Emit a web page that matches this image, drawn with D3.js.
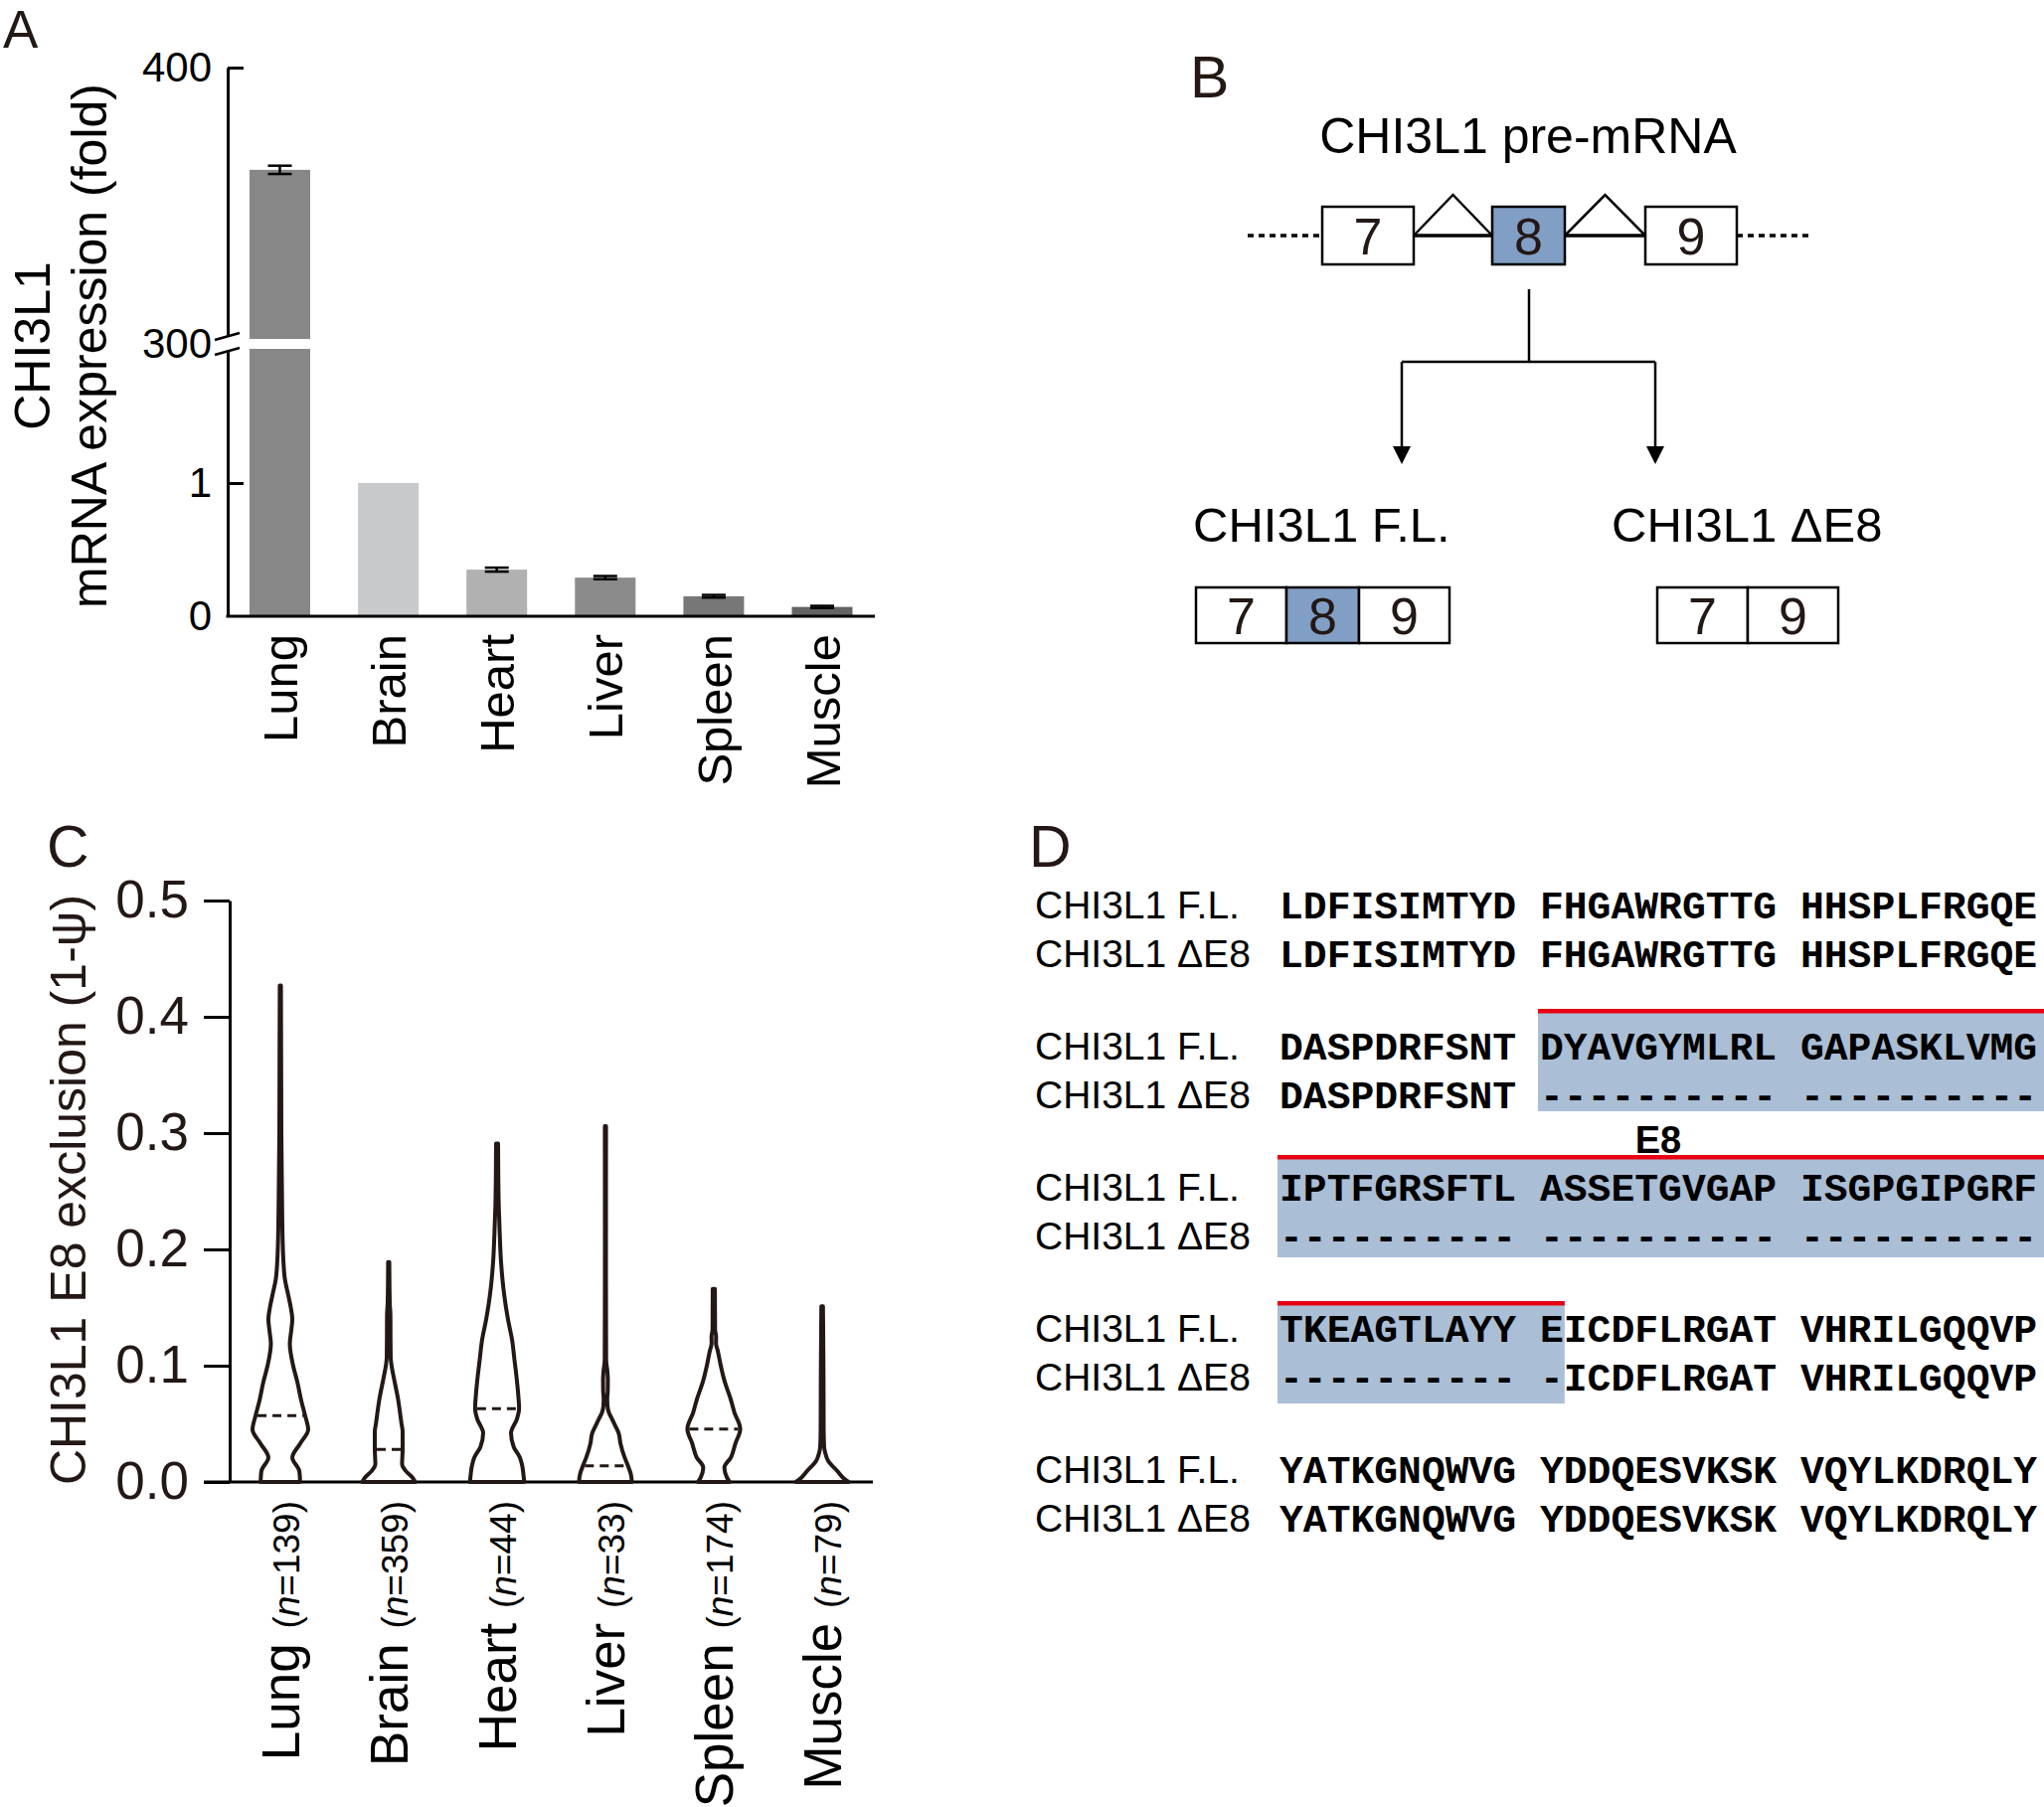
<!DOCTYPE html>
<html><head><meta charset="utf-8">
<script src="https://cdn.jsdelivr.net/npm/d3@7/dist/d3.min.js"></script>
<style>body{margin:0;background:#fff}svg{display:block}</style>
</head><body>
<svg id="fig" width="2056" height="1818"></svg>
<script>
// ================= DATA =================
const tissues = ["Lung", "Brain", "Heart", "Liver", "Spleen", "Muscle"];
// Panel A: relative mRNA expression (fold, Brain = 1)
const expression = [363, 1, 0.35, 0.29, 0.15, 0.07];
const expressionErr = [1.5, 0, 0.015, 0.012, 0.01, 0.008];
const barColors = ["#878787", "#c8c9cb", "#b1b1b1", "#8b8b8b", "#777777", "#636363"];
const yTicksA = [0, 1, 300, 400];

// Panel C: violin profiles [value (1-psi), relative density]
const sampleSizes = [139, 359, 44, 33, 174, 79];
const violinMedians = [0.057, 0.028, 0.063, 0.0139, 0.0456, null];
const lungDensity = [[0,.71],[0.0095,.68],[0.021,.43],[0.033,.71],[0.045,1],[0.057,.89],[0.07,.75],[0.086,.61],[0.1,.46],[0.119,.34],[0.13,.39],[0.14,.43],[0.15,.375],[0.16,.29],[0.175,.16],[0.19,.11],[0.21,.08],[0.243,.06],[0.3,.036],[0.36,.029],[0.427,.021]];
const brainDensity = [[0,.95],[0.0036,.86],[0.0095,.61],[0.0154,.48],[0.028,.5],[0.0435,.5],[0.05,.46],[0.072,.33],[0.09,.18],[0.101,.096],[0.107,.071],[0.125,.064],[0.143,.061],[0.155,.036],[0.189,.021]];
const heartDensity = [[0,.975],[0.0036,.96],[0.0154,.89],[0.021,.82],[0.03,.6],[0.042,.5],[0.054,.71],[0.063,.79],[0.075,.76],[0.092,.69],[0.105,.625],[0.122,.54],[0.14,.39],[0.16,.26],[0.19,.14],[0.215,.093],[0.237,.061],[0.265,.043],[0.291,.036]];
const liverDensity = [[0,.95],[0.007,.91],[0.0139,.81],[0.021,.69],[0.033,.54],[0.042,.475],[0.048,.36],[0.054,.24],[0.06,.12],[0.066,.071],[0.072,.064],[0.078,.082],[0.088,.086],[0.095,.071],[0.105,.025],[0.2,.018],[0.306,.021]];
const spleenDensity = [[0,.57],[0.0036,.475],[0.0124,.38],[0.0213,.62],[0.0331,.775],[0.0456,.95],[0.0598,.74],[0.0717,.6],[0.0864,.39],[0.1,.25],[0.113,.14],[0.119,.079],[0.125,.082],[0.131,.046],[0.145,.043],[0.166,.039]];
const muscleDensity = [[0,.95],[0.002,.83],[0.0095,.54],[0.0184,.21],[0.025,.11],[0.03,.071],[0.045,.054],[0.08,.05],[0.11,.043],[0.151,.029]];
const violinDensities = [lungDensity, brainDensity, heartDensity, liverDensity, spleenDensity, muscleDensity];
const yTicksC = [0, 0.1, 0.2, 0.3, 0.4, 0.5];

// Panel B: exon structures
const preExons = ["7", "8", "9"];
const flExons = ["7", "8", "9"];
const de8Exons = ["7", "9"];

// Panel D: alignment
const isoformLabels = ["CHI3L1 F.L.", "CHI3L1 \u0394E8"];
const seqFL = ["LDFISIMTYD FHGAWRGTTG HHSPLFRGQE", "DASPDRFSNT DYAVGYMLRL GAPASKLVMG", "IPTFGRSFTL ASSETGVGAP ISGPGIPGRF", "TKEAGTLAYY EICDFLRGAT VHRILGQQVP", "YATKGNQWVG YDDQESVKSK VQYLKDRQLY"];
const seqDE8 = ["LDFISIMTYD FHGAWRGTTG HHSPLFRGQE", "DASPDRFSNT ---------- ----------", "---------- ---------- ----------", "---------- -ICDFLRGAT VHRILGQQVP", "YATKGNQWVG YDDQESVKSK VQYLKDRQLY"];
const exon8Spans = [null, [11, 32], [0, 32], [0, 12], null]; // residue column ranges

// ================= DRAW =================
const svg = d3.select("#fig");
svg.append("rect").attr("width", 2056).attr("height", 1818).attr("fill", "#fff");
const FONT = "'Liberation Sans', Arial, Helvetica, sans-serif";
const INK = "#231815";

function panelLabel(t, x, y, fs) {
  svg.append("text").attr("x", x).attr("y", y).text(t)
    .attr("font-family", FONT).attr("font-size", fs).attr("fill", INK);
}
panelLabel("A", 3, 48, 53); panelLabel("B", 1197, 98, 59); panelLabel("C", 47, 872, 59); panelLabel("D", 1035, 872, 59);

// ---------- Panel A ----------
(function () {
  const gA = svg.append("g");
  const x = d3.scalePoint().domain(tissues).range([281.5, 827]);
  const y = d3.scaleLinear().domain([0, 2, 300, 400]).range([620, 352, 346, 68]);
  const bw = 61, axX = 229, base = y(0);
  const data = tissues.map((t, i) => ({ t, v: expression[i], e: expressionErr[i], c: barColors[i] }));
  gA.selectAll("rect.bar").data(data).join("rect").attr("class", "bar")
    .attr("x", d => x(d.t) - bw / 2).attr("width", bw)
    .attr("y", d => y(d.v)).attr("height", d => base - y(d.v)).attr("fill", d => d.c);
  gA.append("rect").attr("x", x("Lung") - bw / 2 - 1).attr("width", bw + 2)
    .attr("y", y(300) - 5).attr("height", 10).attr("fill", "#fff");
  const eb = gA.selectAll("g.err").data(data.filter(d => d.e > 0)).join("g").attr("class", "err")
    .attr("stroke", "#000").attr("stroke-width", 2.5);
  eb.append("line").attr("x1", d => x(d.t)).attr("x2", d => x(d.t)).attr("y1", d => y(d.v - d.e)).attr("y2", d => y(d.v + d.e));
  eb.append("line").attr("x1", d => x(d.t) - 12).attr("x2", d => x(d.t) + 12).attr("y1", d => y(d.v - d.e)).attr("y2", d => y(d.v - d.e));
  eb.append("line").attr("x1", d => x(d.t) - 12).attr("x2", d => x(d.t) + 12).attr("y1", d => y(d.v + d.e)).attr("y2", d => y(d.v + d.e));
  const ax = gA.append("g").attr("transform", `translate(${axX},0)`)
    .call(d3.axisLeft(y).tickValues(yTicksA).tickFormat(d3.format("d")).tickSize(-16).tickSizeOuter(0).tickPadding(16));
  ax.select(".domain").attr("stroke", "#000").attr("stroke-width", 3);
  ax.selectAll(".tick line").attr("stroke", "#000").attr("stroke-width", 3)
    .filter(d => d === 300 || d === 0).remove();
  ax.selectAll(".tick text").attr("font-family", FONT).attr("font-size", 42).attr("fill", "#000");
  const yb = y(300);
  gA.append("polygon").attr("points", `${axX - 13},${yb - 4} ${axX + 12},${yb - 11} ${axX + 12},${yb + 4} ${axX - 13},${yb + 11}`).attr("fill", "#fff");
  gA.append("line").attr("x1", axX - 13).attr("y1", yb - 4).attr("x2", axX + 12).attr("y2", yb - 11).attr("stroke", "#000").attr("stroke-width", 2.5);
  gA.append("line").attr("x1", axX - 13).attr("y1", yb + 11).attr("x2", axX + 12).attr("y2", yb + 4).attr("stroke", "#000").attr("stroke-width", 2.5);
  gA.append("line").attr("x1", axX - 1.5).attr("x2", 880).attr("y1", base).attr("y2", base).attr("stroke", "#000").attr("stroke-width", 3);
  const xa = gA.append("g").attr("transform", `translate(0,${base})`).call(d3.axisBottom(x).tickSize(0));
  xa.select(".domain").remove();
  xa.selectAll(".tick text").attr("transform", "rotate(-90)").attr("x", -18).attr("y", 0).attr("dy", "0.35em")
    .attr("text-anchor", "end").attr("font-family", FONT).attr("font-size", 49).attr("fill", "#000");
  const tA = gA.append("g").attr("font-family", FONT).attr("font-size", 50).attr("fill", "#000").attr("text-anchor", "middle");
  tA.append("text").attr("transform", "translate(50,348) rotate(-90)").text("CHI3L1");
  tA.append("text").attr("transform", "translate(107,348) rotate(-90)").text("mRNA expression (fold)");
})();

// ---------- Panel B ----------
(function () {
  const g = svg.append("g").attr("font-family", FONT).attr("fill", "#000");
  g.append("text").attr("x", 1537).attr("y", 154).attr("text-anchor", "middle").attr("font-size", 50).text("CHI3L1 pre-mRNA");
  const cy = 237, bh = 58;
  const boxes = [{ n: preExons[0], x0: 1330, x1: 1422 }, { n: preExons[1], x0: 1501, x1: 1574 }, { n: preExons[2], x0: 1655, x1: 1747 }];
  [[1255, 1330], [1747, 1822]].forEach(([a, b]) => g.append("line").attr("x1", a).attr("x2", b).attr("y1", cy).attr("y2", cy)
    .attr("stroke", "#000").attr("stroke-width", 3.5).attr("stroke-dasharray", "6,5"));
  for (let i = 0; i < 2; i++) {
    const a = boxes[i].x1, b = boxes[i + 1].x0;
    g.append("line").attr("x1", a).attr("x2", b).attr("y1", cy).attr("y2", cy).attr("stroke", "#000").attr("stroke-width", 3.5);
    g.append("path").attr("d", `M${a},${cy} L${(a + b) / 2},${cy - 41} L${b},${cy}`).attr("fill", "none").attr("stroke", "#000").attr("stroke-width", 2.5);
  }
  function exonBox(b, y0, h) {
    g.append("rect").attr("x", b.x0).attr("y", y0).attr("width", b.x1 - b.x0).attr("height", h)
      .attr("fill", b.n === "8" ? "#819fc4" : "#fff").attr("stroke", "#000").attr("stroke-width", 2.5);
    g.append("text").attr("x", (b.x0 + b.x1) / 2).attr("y", y0 + h / 2).attr("dy", "0.36em").attr("text-anchor", "middle")
      .attr("font-size", 52).attr("fill", INK).text(b.n);
  }
  boxes.forEach(b => exonBox(b, cy - bh / 2, bh));
  const L = (x1, y1, x2, y2) => g.append("line").attr("x1", x1).attr("y1", y1).attr("x2", x2).attr("y2", y2).attr("stroke", "#000").attr("stroke-width", 2.5);
  L(1538, 291, 1538, 364); L(1410, 364, 1665, 364); L(1410, 364, 1410, 452); L(1665, 364, 1665, 452);
  [1410, 1665].forEach(xx => g.append("path").attr("d", `M${xx - 9},${449} L${xx + 9},${449} L${xx},${467} Z`).attr("fill", "#000"));
  g.append("text").attr("x", 1200).attr("y", 545).attr("font-size", 49).text("CHI3L1 F.L.");
  g.append("text").attr("x", 1621).attr("y", 545).attr("font-size", 49).text("CHI3L1 \u0394E8");
  const fl = [{ x0: 1203, x1: 1294 }, { x0: 1294, x1: 1367 }, { x0: 1367, x1: 1458 }].map((b, i) => ({ ...b, n: flExons[i] }));
  const de = [{ x0: 1667, x1: 1758 }, { x0: 1758, x1: 1849 }].map((b, i) => ({ ...b, n: de8Exons[i] }));
  fl.concat(de).forEach(b => exonBox(b, 591, 56));
})();

// ---------- Panel C ----------
(function () {
  const g = svg.append("g");
  const x = d3.scalePoint().domain(tissues).range([282, 827]);
  const y = d3.scaleLinear().domain([0, 0.5]).range([1491, 906]);
  const w = d3.scaleLinear().domain([0, 1]).range([0, 28]);
  const axX = 231;
  const ax = g.append("g").attr("transform", `translate(${axX},0)`)
    .call(d3.axisLeft(y).tickValues(yTicksC).tickFormat(d3.format(".1f")).tickSize(26).tickSizeOuter(0).tickPadding(15));
  ax.select(".domain").attr("stroke", "#000").attr("stroke-width", 3);
  ax.selectAll(".tick line").attr("stroke", "#000").attr("stroke-width", 3);
  ax.selectAll(".tick text").attr("font-family", FONT).attr("font-size", 53).attr("fill", INK);
  g.append("line").attr("x1", axX - 26).attr("x2", 878).attr("y1", y(0)).attr("y2", y(0)).attr("stroke", "#000").attr("stroke-width", 3);

  tissues.forEach((t, i) => {
    const cx = x(t), dens = violinDensities[i];
    const area = d3.area().curve(d3.curveMonotoneY)
      .y(d => y(d[0])).x0(d => cx - w(d[1])).x1(d => cx + w(d[1]));
    g.append("path").attr("d", area(dens)).attr("fill", "#fff").attr("stroke", INK)
      .attr("stroke-width", 4).attr("stroke-linejoin", "round");
    const m = violinMedians[i];
    if (m != null) {
      const j = d3.bisector(d => d[0]).left(dens, m);
      const a = dens[j - 1], b = dens[j];
      const hw = a[1] + (b[1] - a[1]) * (m - a[0]) / (b[0] - a[0]);
      g.append("line").attr("x1", cx - w(hw) + 2).attr("x2", cx + w(hw) - 2).attr("y1", y(m)).attr("y2", y(m))
        .attr("stroke", INK).attr("stroke-width", 3).attr("stroke-dasharray", "9,6");
    }
    const lab = g.append("text").attr("transform", `translate(${cx},${y(0) + 19}) rotate(-90)`)
      .attr("text-anchor", "end").attr("font-size", 53).attr("dy", "0.35em").attr("font-family", FONT).attr("fill", "#000");
    lab.append("tspan").attr("font-size", 53).text(t + " ");
    lab.append("tspan").attr("font-size", 37).text("(");
    lab.append("tspan").attr("font-size", 37).attr("font-style", "italic").text("n");
    lab.append("tspan").attr("font-size", 37).text("=" + sampleSizes[i] + ")");
  });
  g.append("text").attr("transform", "translate(86,1197) rotate(-90)").attr("text-anchor", "middle")
    .attr("font-family", FONT).attr("font-size", 50).attr("fill", INK).text("CHI3L1 E8 exclusion (1-\u03c8)");
})();

// ---------- Panel D ----------
(function () {
  const g = svg.append("g");
  const col = d3.scaleLinear().domain([0, 32]).range([1287, 1287 + 32 * 23.82]);
  const rowY = d3.scaleLinear().domain([0, 4]).range([924, 1492]);
  const hlTop = d3.scaleLinear().domain([1, 3]).range([1017, 1311]);
  const rowH = 49;
  seqFL.forEach((s, r) => {
    const yb = rowY(r);
    const sp = exon8Spans[r];
    if (sp) {
      const x0 = col(sp[0]) - 2, x1 = sp[1] >= 32 ? 2056 : col(sp[1]) + 1, top = hlTop(r);
      g.append("rect").attr("x", x0).attr("y", top).attr("width", x1 - x0).attr("height", 101).attr("fill", "#aabed5");
      g.append("rect").attr("x", x0).attr("y", top - 2).attr("width", x1 - x0).attr("height", 4.5).attr("fill", "#e60012");
    }
    [s, seqDE8[r]].forEach((seq, k) => {
      g.append("text").attr("x", 1041).attr("y", yb + k * rowH).attr("font-family", FONT).attr("font-size", 39).attr("fill", "#000").text(isoformLabels[k]);
      g.append("text").attr("x", col(0)).attr("y", yb + k * rowH).attr("font-family", "'Liberation Mono', 'Courier New', monospace")
        .attr("font-weight", "bold").attr("font-size", 39.7).attr("fill", "#000").style("white-space", "pre").text(seq);
    });
  });
  g.append("text").attr("x", 1668).attr("y", 1160).attr("text-anchor", "middle").attr("font-family", FONT)
    .attr("font-weight", "bold").attr("font-size", 38).attr("fill", "#000").text("E8");
})();
</script>
</body></html>
